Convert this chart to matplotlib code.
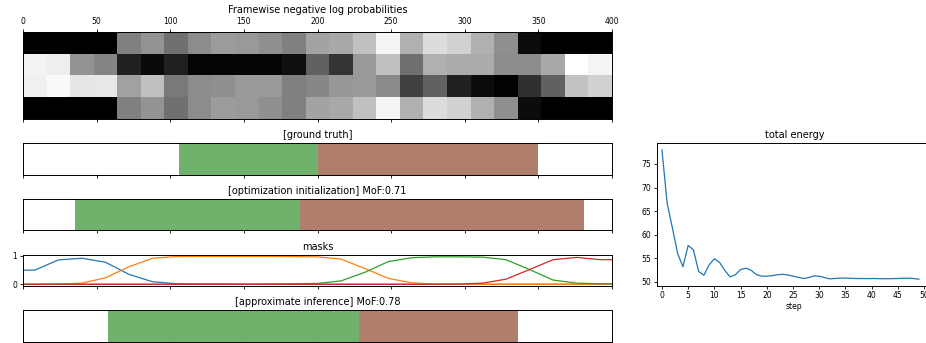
import matplotlib
matplotlib.use("Agg")
import matplotlib.pyplot as plt
import numpy as np

plt.rcParams['axes.linewidth'] = 0.7
plt.rcParams['xtick.major.size'] = 2.5
plt.rcParams['ytick.major.size'] = 2.5
plt.rcParams['xtick.major.width'] = 0.6
plt.rcParams['ytick.major.width'] = 0.6
plt.rcParams['xtick.labelsize'] = 5.5
plt.rcParams['ytick.labelsize'] = 5.5
plt.rcParams['xtick.major.pad'] = 1.5
plt.rcParams['ytick.major.pad'] = 1.5

# framewise negative log probabilities (grey level, 25 windows of 16 frames, 4 classes)
n_frames = 400
win = 16
nll_rows = [
    [0, 0, 0, 0, 0.50, 0.58, 0.44, 0.55, 0.61, 0.60, 0.56, 0.50, 0.64,
     0.66, 0.75, 0.96, 0.69, 0.86, 0.82, 0.69, 0.56, 0.05, 0, 0, 0],
    [0.95, 0.93, 0.58, 0.52, 0.13, 0.04, 0.13, 0.02, 0.02, 0.02, 0.02, 0.06, 0.38,
     0.21, 0.60, 0.75, 0.44, 0.69, 0.67, 0.67, 0.55, 0.55, 0.66, 1.0, 0.96],
    [0.94, 0.98, 0.90, 0.91, 0.63, 0.75, 0.48, 0.55, 0.56, 0.60, 0.60, 0.50, 0.53,
     0.59, 0.60, 0.54, 0.25, 0.38, 0.13, 0.05, 0.01, 0.19, 0.38, 0.76, 0.82],
    [0, 0, 0, 0, 0.50, 0.58, 0.44, 0.55, 0.61, 0.60, 0.56, 0.50, 0.64,
     0.66, 0.75, 0.96, 0.69, 0.86, 0.82, 0.69, 0.56, 0.05, 0, 0, 0],
]

# segmentations: (start, end, colour)
seg_colors = {'green': '#6fb26b', 'brown': '#b07e6c'}
gt_segments = [(106, 200, 'green'), (200, 350, 'brown')]
init_segments = [(35, 188, 'green'), (188, 381, 'brown')]
approx_segments = [(58, 228, 'green'), (228, 336, 'brown')]
init_mof = 0.71
approx_mof = 0.78

# masks, sampled at window centres plus both ends
mask_frames = [0, 8, 24, 40, 56, 72, 88, 104, 120, 136, 152, 168, 184, 200,
               216, 232, 248, 264, 280, 296, 312, 328, 344, 360, 376, 392, 400]
mask_blue = [0.50, 0.50, 0.86, 0.92, 0.78, 0.35, 0.09, 0.02, 0.01, 0.01, 0.0, 0.0, 0.0, 0.0,
             0.0, 0.0, 0.0, 0.0, 0.0, 0.0, 0.0, 0.0, 0.0, 0.0, 0.0, 0.0, 0.0]
mask_orange = [0.0, 0.0, 0.01, 0.04, 0.23, 0.62, 0.92, 0.98, 0.985, 0.985, 0.985, 0.985, 0.98, 0.97,
               0.89, 0.56, 0.21, 0.05, 0.01, 0.0, 0.0, 0.0, 0.0, 0.0, 0.0, 0.0, 0.0]
mask_green = [0.0, 0.0, 0.0, 0.0, 0.0, 0.0, 0.0, 0.0, 0.0, 0.0, 0.0, 0.01, 0.02, 0.03,
              0.12, 0.42, 0.80, 0.94, 0.97, 0.97, 0.96, 0.87, 0.52, 0.15, 0.04, 0.02, 0.02]
mask_red = [0.0, 0.0, 0.0, 0.0, 0.0, 0.0, 0.0, 0.0, 0.0, 0.0, 0.0, 0.0, 0.0, 0.0,
            0.0, 0.0, 0.0, 0.0, 0.0, 0.01, 0.04, 0.18, 0.52, 0.87, 0.95, 0.87, 0.87]

# total energy per optimisation step
energy = [78.0, 66.6, 61.4, 56.0, 53.2, 57.7, 56.8, 52.2, 51.4, 53.6,
          54.9, 54.1, 52.4, 51.05, 51.5, 52.6, 52.9, 52.45, 51.55, 51.2,
          51.2, 51.3, 51.5, 51.6, 51.45, 51.2, 50.95, 50.7, 50.9, 51.25,
          51.2, 50.9, 50.63, 50.7, 50.8, 50.8, 50.75, 50.7, 50.7, 50.68,
          50.7, 50.68, 50.66, 50.66, 50.68, 50.7, 50.75, 50.77, 50.7, 50.55]

W, H = 926, 343
fig = plt.figure(figsize=(W / 100, H / 100), dpi=100)


def add_axes(x0, y0, x1, y1):
    return fig.add_axes([x0 / W, 1 - y1 / H, (x1 - x0) / W, (y1 - y0) / H])


xticks = np.arange(0, n_frames + 1, 50)

# heatmap
ax = add_axes(23, 32, 612, 119)
ax.imshow(np.array(nll_rows), cmap='gray', vmin=0, vmax=1, aspect='auto',
          interpolation='nearest', extent=(0, len(nll_rows[0]) * win, len(nll_rows), 0))
ax.set_xlim(0, n_frames)
ax.set_xticks(xticks)
ax.tick_params(axis='x', top=True, labeltop=True, bottom=True, labelbottom=False)
ax.set_yticks([])
ax.set_title('Framewise negative log probabilities', fontsize=7, pad=3)


def seg_axes(y0, y1, segments, title):
    a = add_axes(23, y0, 612, y1)
    for s, e, c in segments:
        a.axvspan(s, e, color=seg_colors[c], lw=0)
    a.set_xlim(0, n_frames)
    a.set_xticks(xticks)
    a.set_xticklabels([])
    a.set_yticks([])
    a.set_title(title, fontsize=7, pad=3.5)
    return a


seg_axes(143.3, 175, gt_segments, '[ground truth]')
seg_axes(199, 230, init_segments, '[optimization initialization] MoF:%.2f' % init_mof)

# masks
ax = add_axes(23, 255, 612, 285.7)
for vals, c in [(mask_blue, 'C0'), (mask_orange, 'C1'), (mask_green, 'C2'), (mask_red, 'C3')]:
    ax.plot(mask_frames, vals, color=c, lw=0.9)
ax.set_xlim(0, n_frames)
ax.set_ylim(-0.05, 1.035)
ax.set_xticks(xticks)
ax.set_xticklabels([])
ax.set_yticks([0, 1])
ax.set_title('masks', fontsize=7, pad=3.5)

seg_axes(310, 341.7, approx_segments, '[approximate inference] MoF:%.2f' % approx_mof)

# energy
ax = add_axes(656.7, 143.3, 932, 285.7)
ax.plot(np.arange(len(energy)), energy, color='C0', lw=0.9)
ax.set_xlim(-1, 51.5)
ax.set_xticks(np.arange(0, 51, 5))
ax.set_yticks(np.arange(50, 76, 5))
ax.set_xlabel('step', fontsize=5.5, labelpad=1.5)
ax.set_title('total energy', fontsize=7, pad=3.5)

fig.savefig('out.png', dpi=100)
